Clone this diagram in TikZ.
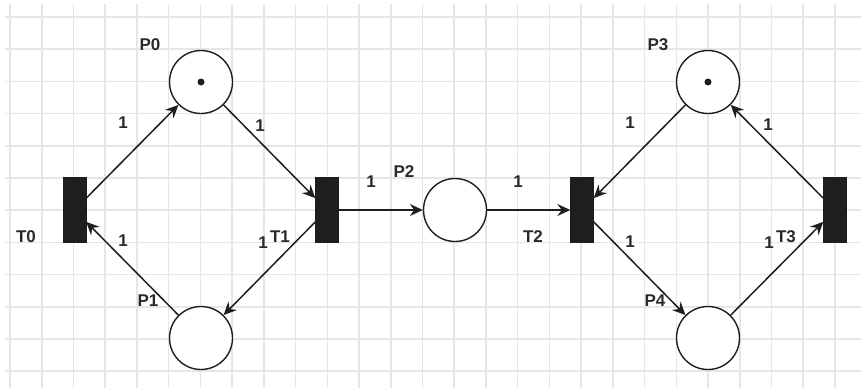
\documentclass[tikz,border=0pt]{standalone}
\usepackage{fontspec}
\setmainfont{Liberation Sans}
\usetikzlibrary{arrows.meta}
\definecolor{ink}{HTML}{1E1E1E}
\definecolor{txt}{HTML}{2A2A2A}
\definecolor{gridc}{HTML}{E6E6E6}
\begin{document}
\begin{tikzpicture}[x=1pt,y=-1pt,
  place/.style={circle,draw=ink,line width=1.4pt,fill=white,minimum size=63pt,inner sep=0pt},
  trans/.style={rectangle,draw=ink,fill=ink,minimum width=23pt,minimum height=65pt,inner sep=0pt},
  lbl/.style={font=\fontsize{17}{17}\selectfont\bfseries,text=txt,inner sep=0pt},
  arc/.style={draw=ink,line width=1.5pt,-{Stealth[length=13pt,width=12pt,inset=4.5pt]}},
  token/.style={circle,fill=ink,minimum size=7pt,inner sep=0pt}]
\useasboundingbox (0,0) rectangle (861,388);
\fill[white] (0,0) rectangle (861,388);
% grid
\foreach \i in {0,...,26} \draw[gridc,line width=1.6pt] ({10+\i*31.73},4) -- ({10+\i*31.73},388);
\foreach \j in {0,...,11} \draw[gridc,line width=1.6pt] (5,{17+\j*32.2}) -- (861,{17+\j*32.2});
% places
\node[place] (P0) at (201,82) {};
\node[place] (P1) at (201,338) {};
\node[place] (P2) at (455,210) {};
\node[place] (P3) at (708,82) {};
\node[place] (P4) at (708,338) {};
\node[token] (k0) at (P0.center) {};
\node[token] (k3) at (P3.center) {};
% transitions
\node[trans] (T0) at (74.5,210) {};
\node[trans] (T1) at (327,210) {};
\node[trans] (T2) at (582,210) {};
\node[trans] (T3) at (835,210) {};
% arcs
\draw[arc] (T0) -- (P0);
\draw[arc] (P0) -- (T1);
\draw[arc] (T1) -- (P2);
\draw[arc] (P2) -- (T2);
\draw[arc] (P3) -- (T2);
\draw[arc] (T3) -- (P3);
\draw[arc] (T2) -- (P4);
\draw[arc] (P4) -- (T3);
\draw[arc] (T1) -- (P1);
\draw[arc] (P1) -- (T0);
% node labels
\node[lbl] (lP0) at (150,45) {P0};
\node[lbl] (lP1) at (148,301) {P1};
\node[lbl] (lP2) at (404,172) {P2};
\node[lbl] (lP3) at (658,45) {P3};
\node[lbl] (lP4) at (655,301) {P4};
\node[lbl] (lT0) at (26,237) {T0};
\node[lbl] (lT1) at (280,237) {T1};
\node[lbl] (lT2) at (533,237) {T2};
\node[lbl] (lT3) at (786,237) {T3};
% weights
\node[lbl] (w1) at (123,123) {1};
\node[lbl] (w2) at (260,126) {1};
\node[lbl] (w3) at (371,182) {1};
\node[lbl] (w4) at (518,182) {1};
\node[lbl] (w5) at (630,123) {1};
\node[lbl] (w6) at (768,125) {1};
\node[lbl] (w7) at (123,241) {1};
\node[lbl] (w8) at (263,243) {1};
\node[lbl] (w9) at (630,242) {1};
\node[lbl] (w10) at (769,243) {1};
\end{tikzpicture}
\end{document}
